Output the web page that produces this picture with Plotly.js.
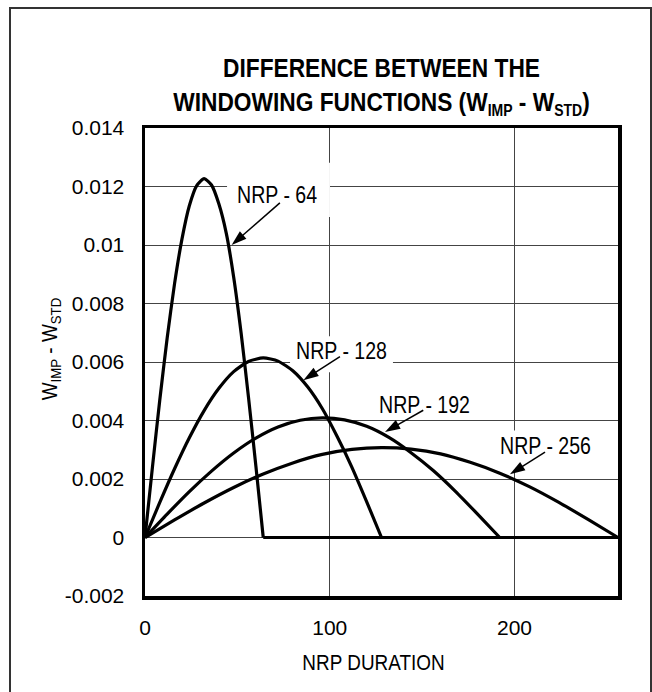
<!DOCTYPE html>
<html>
<head>
<meta charset="utf-8">
<script src="https://cdn.plot.ly/plotly-3.0.1.min.js"></script>
<style>
  html, body { margin: 0; padding: 0; background: #fff; }
  #wrap { position: relative; width: 652px; height: 692px; overflow: hidden; }
  #frame { position: absolute; left: 9px; top: 7px; width: 639px; height: 720px;
           border: 2px solid #333; border-bottom: none; pointer-events: none; }
</style>
</head>
<body>
<div id="wrap">
  <div id="chart" style="width:652px;height:692px;"></div>
  <div id="frame"></div>
</div>
<script>
// ---- data ----
const nrp64X  = [0, 4, 8, 12, 16, 20, 24, 28, 32, 36, 40, 44, 48, 52, 56, 60, 64];
const nrp64Y  = [0, 0.00239, 0.0047, 0.00682, 0.00868, 0.0102, 0.01134, 0.01203, 0.01227, 0.01205, 0.0114, 0.0104, 0.0089, 0.0070, 0.0048, 0.00245, 0];

const nrp128X = [0, 8, 16, 24, 32, 40, 48, 56, 64, 72, 80, 88, 96, 104, 112, 120, 128];
const nrp128Y = [0, 0.0012, 0.00235, 0.00341, 0.00434, 0.0051, 0.00567, 0.00602, 0.00614, 0.00603, 0.0057, 0.00515, 0.0044, 0.00345, 0.0024, 0.00122, 0];

const nrp192X = [0, 12, 24, 36, 48, 60, 72, 84, 96, 108, 120, 132, 144, 156, 168, 180, 192];
const nrp192Y = [0, 0.0008, 0.00157, 0.00227, 0.00289, 0.0034, 0.00378, 0.00401, 0.00409, 0.00402, 0.0038, 0.00342, 0.0029, 0.00229, 0.00158, 0.0008, 0];

const nrp256X = [0, 16, 32, 48, 64, 80, 96, 112, 128, 144, 160, 176, 192, 208, 224, 240, 256];
const nrp256Y = [0, 0.0006, 0.00118, 0.00171, 0.00217, 0.00255, 0.00284, 0.00301, 0.00307, 0.00302, 0.00286, 0.00257, 0.0022, 0.00174, 0.0012, 0.00061, 0];

// flat part of the curves after each window has ended
const baseX = [64, 256];
const baseY = [0, 0];

const xTickVals = [0, 100, 200];
const xTickText = ['0', '100', '200'];
const yTickVals = [-0.002, 0, 0.002, 0.004, 0.006, 0.008, 0.01, 0.012, 0.014];
const yTickText = ['-0.002', '0', '0.002', '0.004', '0.006', '0.008', '0.01', '0.012', '0.014'];

const labelText = ['NRP - 64', 'NRP - 128', 'NRP - 192', 'NRP - 256'];

// label placement (text centre), arrows (tail near text -> tip on curve), white label boxes
const labelPos  = [[71.3, 0.01171], [106.3, 0.00637], [151.3, 0.00454], [216.9, 0.00312]];
const arrowTail = [[73.0, 0.01144], [105.5, 0.00618], [150.6, 0.00435], [216.5, 0.00292]];
const arrowTip  = [[46.9, 0.0100], [85.7, 0.00538], [129.9, 0.00361], [197.5, 0.00216]];
const boxX = [[44.4, 100.1], [78.5, 134.2], [122.8, 180.2], [186.7, 246.2]];
const boxY = [[0.01096, 0.01281], [0.00565, 0.00688], [0.00411, 0.00538], [0.00229, 0.00366]];

// ---- styling ----
const FONT = '"Liberation Sans", Arial, Helvetica, sans-serif';
const lineStyle = {color: '#000', width: 3.2, shape: 'spline', smoothing: 0.6};

const curves = [[nrp64X, nrp64Y], [nrp128X, nrp128Y], [nrp192X, nrp192Y], [nrp256X, nrp256Y]];
const traces = curves.map(function (c, i) {
  return {x: c[0], y: c[1], type: 'scatter', mode: 'lines', name: labelText[i],
          line: lineStyle, hoverinfo: 'skip'};
});
traces.push({x: baseX, y: baseY, type: 'scatter', mode: 'lines',
             line: {color: '#000', width: 3.2}, hoverinfo: 'skip'});

// arrows: thin line with an arrow-head marker at the tip
labelText.forEach(function (t, i) {
  traces.push({
    x: [arrowTail[i][0], arrowTip[i][0]], y: [arrowTail[i][1], arrowTip[i][1]],
    type: 'scatter', mode: 'lines+markers', hoverinfo: 'skip', cliponaxis: false,
    line: {color: '#000', width: 1.5},
    marker: {symbol: 'arrow', angleref: 'previous', size: 16, color: '#000',
             line: {width: 0}}
  });
});

const annotations = labelText.map(function (t, i) {
  return {x: labelPos[i][0], y: labelPos[i][1], xref: 'x', yref: 'y',
    text: t, showarrow: false, borderpad: 0,
    font: {family: FONT, size: 23, color: '#000'}};
});

const shapes = labelText.map(function (t, i) {
  return {type: 'rect', xref: 'x', yref: 'y', layer: 'between',
    x0: boxX[i][0], x1: boxX[i][1], y0: boxY[i][0], y1: boxY[i][1],
    fillcolor: '#fff', line: {width: 0}};
});

const layout = {
  width: 652, height: 692,
  margin: {l: 145, r: 34, t: 128, b: 96, pad: 0},
  paper_bgcolor: '#fff', plot_bgcolor: '#fff',
  showlegend: false,
  font: {family: FONT, size: 21, color: '#000'},
  title: {
    text: 'DIFFERENCE BETWEEN THE<br>WINDOWING FUNCTIONS (W<sub><span style="font-size:16px">IMP</span></sub> - W<sub><span style="font-size:16px">STD</span></sub>)',
    font: {family: FONT, size: 26, color: '#000', weight: 700},
    x: 0.5, xref: 'paper', xanchor: 'center',
    y: 1 - 77 / 692, yref: 'container', yanchor: 'middle'
  },
  xaxis: {
    range: [0, 256], tickmode: 'array', tickvals: xTickVals, ticktext: xTickText,
    showgrid: true, gridcolor: '#444', gridwidth: 1, zeroline: false,
    showline: true, mirror: true, linecolor: '#000', linewidth: 3.5,
    ticks: '', ticklabelstandoff: 10,
    tickfont: {family: FONT, size: 21, color: '#000'},
    title: {text: 'NRP DURATION', standoff: 18, font: {family: FONT, size: 21.5, color: '#000'}},
    fixedrange: true
  },
  yaxis: {
    range: [-0.002, 0.014], tickmode: 'array', tickvals: yTickVals, ticktext: yTickText,
    showgrid: true, gridcolor: '#444', gridwidth: 1, zeroline: false,
    showline: true, mirror: true, linecolor: '#000', linewidth: 3.5,
    ticks: '', ticklabelstandoff: 13,
    tickfont: {family: FONT, size: 21, color: '#000'},
    title: {text: 'W<sub>IMP</sub> - W<sub>STD</sub>', standoff: 2, font: {family: FONT, size: 22, color: '#000'}},
    fixedrange: true
  },
  annotations: annotations,
  shapes: shapes
};

// the reference lettering is a condensed face; squeeze the real text horizontally
function condense(selector, f, dx, dy) {
  document.querySelectorAll('#chart ' + selector).forEach(function (el) {
    const b = el.getBBox();
    const cx = b.x + b.width / 2;
    const t = el.getAttribute('transform') || '';
    el.setAttribute('transform', t + ' translate(' + (cx + dx) + ',' + dy + ') scale(' + f + ',1) translate(' + (-cx) + ',0)');
  });
}

Plotly.newPlot('chart', traces, layout, {displayModeBar: false, staticPlot: true}).then(function () {
  condense('text.gtitle', 0.875, 0, 0);
  condense('text.xtitle', 0.88, -8, 0);
  condense('text.ytitle', 0.86, 13, 0);
  condense('text.annotation-text', 0.85, 0, 0);
});
</script>
</body>
</html>
